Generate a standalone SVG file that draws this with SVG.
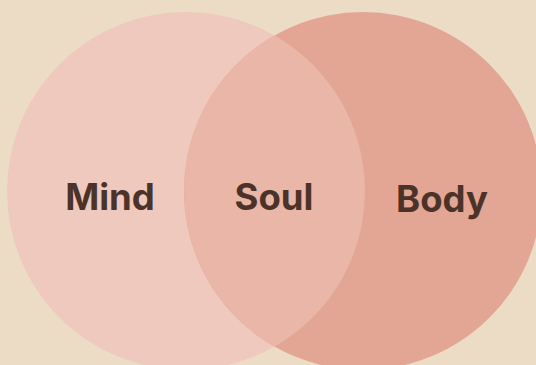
<svg xmlns="http://www.w3.org/2000/svg" width="536" height="365" viewBox="0 0 536 365">
<style>
.lbl{font-family:Inter,"Liberation Sans",sans-serif;font-weight:700;font-size:36.5px;fill:#4b3329;text-anchor:middle}
</style>
<defs>
<clipPath id="clipL"><circle cx="186" cy="191" r="179"/></clipPath>
</defs>
<rect width="536" height="365" fill="#ecdcc5"/>
<g id="mind"><circle cx="186" cy="191" r="179" fill="#efc9bd"/></g>
<g id="body"><circle cx="363" cy="191" r="179" fill="#e3a594"/></g>
<g id="soul"><circle cx="363" cy="191" r="179" fill="#e9b6a8" clip-path="url(#clipL)"/></g>
<g id="labels">
<text class="lbl" x="110" y="210">Mind</text>
<text class="lbl" x="274" y="210">Soul</text>
<text class="lbl" x="442" y="212">Body</text>
</g>
</svg>
